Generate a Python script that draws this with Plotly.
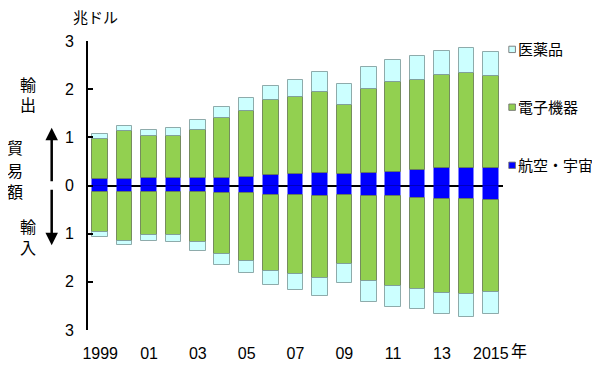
import plotly.graph_objects as go

years = list(range(1999, 2016))
tick_vals = [1999, 2001, 2003, 2005, 2007, 2009, 2011, 2013, 2015]
tick_text = ["1999", "01", "03", "05", "07", "09", "11", "13", "2015"]

# 輸出 (兆ドル)
exp_aero = [0.14, 0.13, 0.15, 0.15, 0.15, 0.165, 0.18, 0.21, 0.235, 0.26, 0.24, 0.255, 0.28, 0.32, 0.36, 0.365, 0.37]
exp_elec = [0.83, 1.00, 0.87, 0.88, 1.01, 1.245, 1.37, 1.56, 1.605, 1.69, 1.43, 1.745, 1.87, 1.87, 1.94, 1.975, 1.91]
exp_pharma = [0.10, 0.10, 0.13, 0.16, 0.19, 0.23, 0.26, 0.29, 0.35, 0.41, 0.43, 0.46, 0.46, 0.49, 0.49, 0.52, 0.49]

# 輸入 (兆ドル)
imp_aero = [0.125, 0.125, 0.13, 0.13, 0.13, 0.15, 0.16, 0.19, 0.20, 0.21, 0.20, 0.21, 0.21, 0.25, 0.27, 0.29, 0.30]
imp_elec = [0.845, 1.025, 0.89, 0.89, 1.04, 1.28, 1.40, 1.58, 1.64, 1.71, 1.43, 1.78, 1.88, 1.89, 1.96, 1.97, 1.91]
imp_pharma = [0.09, 0.09, 0.13, 0.16, 0.18, 0.23, 0.26, 0.29, 0.33, 0.38, 0.40, 0.43, 0.44, 0.43, 0.44, 0.48, 0.46]

y_tick_vals = [-3, -2, -1, 0, 1, 2, 3]
y_tick_text = ["3", "2", "1", "0", "1", "2", "3"]

names = ["航空・宇宙", "電子機器", "医薬品"]
colors = ["#0000FF", "#92D050", "#CCFFFF"]
line_cols = ["rgba(0,0,255,0)", "rgba(90,110,70,0.75)", "rgba(120,150,150,0.8)"]

FONT = "Liberation Sans, Arial, Noto Sans CJK JP"

fig = go.Figure()
for name, col, lc, ex, im in zip(names, colors, line_cols,
                                  [exp_aero, exp_elec, exp_pharma],
                                  [imp_aero, imp_elec, imp_pharma]):
    fig.add_trace(go.Bar(x=years, y=ex, marker=dict(color=col, line=dict(color=lc, width=1)),
                         width=0.64, showlegend=False, name=name))
    fig.add_trace(go.Bar(x=years, y=[-v for v in im], marker=dict(color=col, line=dict(color=lc, width=1)),
                         width=0.64, showlegend=False, name=name))

# The page has an 8px body margin, so the figure is sized 592x371 to fill the 600x379 window.
fig.update_layout(
    width=592, height=371,
    margin=dict(l=80, r=97, t=33, b=49, autoexpand=False),
    barmode="relative",
    plot_bgcolor="white", paper_bgcolor="white",
    font=dict(family=FONT, size=16, color="black"),
    bargap=0,
    showlegend=False,
    xaxis=dict(range=[1998.5, 2015.5], tickvals=tick_vals, ticktext=tick_text,
               showline=False, showgrid=False, zeroline=False, ticks="",
               ticklabelstandoff=12, tickfont=dict(size=16)),
    yaxis=dict(range=[-3, 3], tickvals=y_tick_vals, ticktext=y_tick_text,
               showline=True, linecolor="black", linewidth=2,
               ticks="inside", ticklen=5, tickwidth=2, tickcolor="black",
               showgrid=False, zeroline=True, zerolinecolor="black", zerolinewidth=2,
               layer="above traces", ticklabelstandoff=9, tickfont=dict(size=16)),
)

# legend (drawn as swatches + text, top to bottom 医薬品, 電子機器, 航空・宇宙)
legend_y = {2: 0.971, 1: 0.771, 0: 0.570}
shapes = []
ann = []
for i in [2, 1, 0]:
    yc = legend_y[i]
    shapes.append(dict(type="rect", xref="paper", yref="paper",
                       x0=1.014, x1=1.030, y0=yc - 0.011, y1=yc + 0.011,
                       fillcolor=colors[i], line=dict(color="rgba(110,110,110,0.85)", width=1)))
    ann.append(dict(text=names[i], x=1.031, y=yc, xref="paper", yref="paper",
                    xanchor="left", yanchor="middle", showarrow=False, font=dict(size=15)))

# vertical side labels, one character each
side_chars = [("輸", -0.1443, 2.08), ("出", -0.1443, 1.67),
              ("貿", -0.1769, 0.77), ("易", -0.1769, 0.30), ("額", -0.1769, -0.15),
              ("輸", -0.1443, -0.875), ("入", -0.1443, -1.30)]
for ch, xp, yv in side_chars:
    ann.append(dict(text=ch, x=xp, y=yv, xref="paper", yref="y", xanchor="center", yanchor="middle",
                    showarrow=False, font=dict(size=16)))

ann += [
    dict(text="兆ドル", x=-0.04, y=1.08, xref="paper", yref="paper", xanchor="left", yanchor="middle",
         showarrow=False, font=dict(size=15)),
    dict(text="年", x=1.039, y=-0.076, xref="paper", yref="paper", xanchor="center", yanchor="middle",
         showarrow=False, font=dict(size=16)),
    dict(text="", x=-0.0875, y=1.2, xref="paper", yref="y", ax=0, ay=55, showarrow=True,
         arrowhead=2, arrowsize=1, arrowwidth=2.5, arrowcolor="black"),
    dict(text="", x=-0.0875, y=-1.24, xref="paper", yref="y", ax=0, ay=-57, showarrow=True,
         arrowhead=2, arrowsize=1, arrowwidth=2.5, arrowcolor="black"),
]
fig.update_layout(annotations=ann, shapes=shapes)

fig.write_html("out.html")
